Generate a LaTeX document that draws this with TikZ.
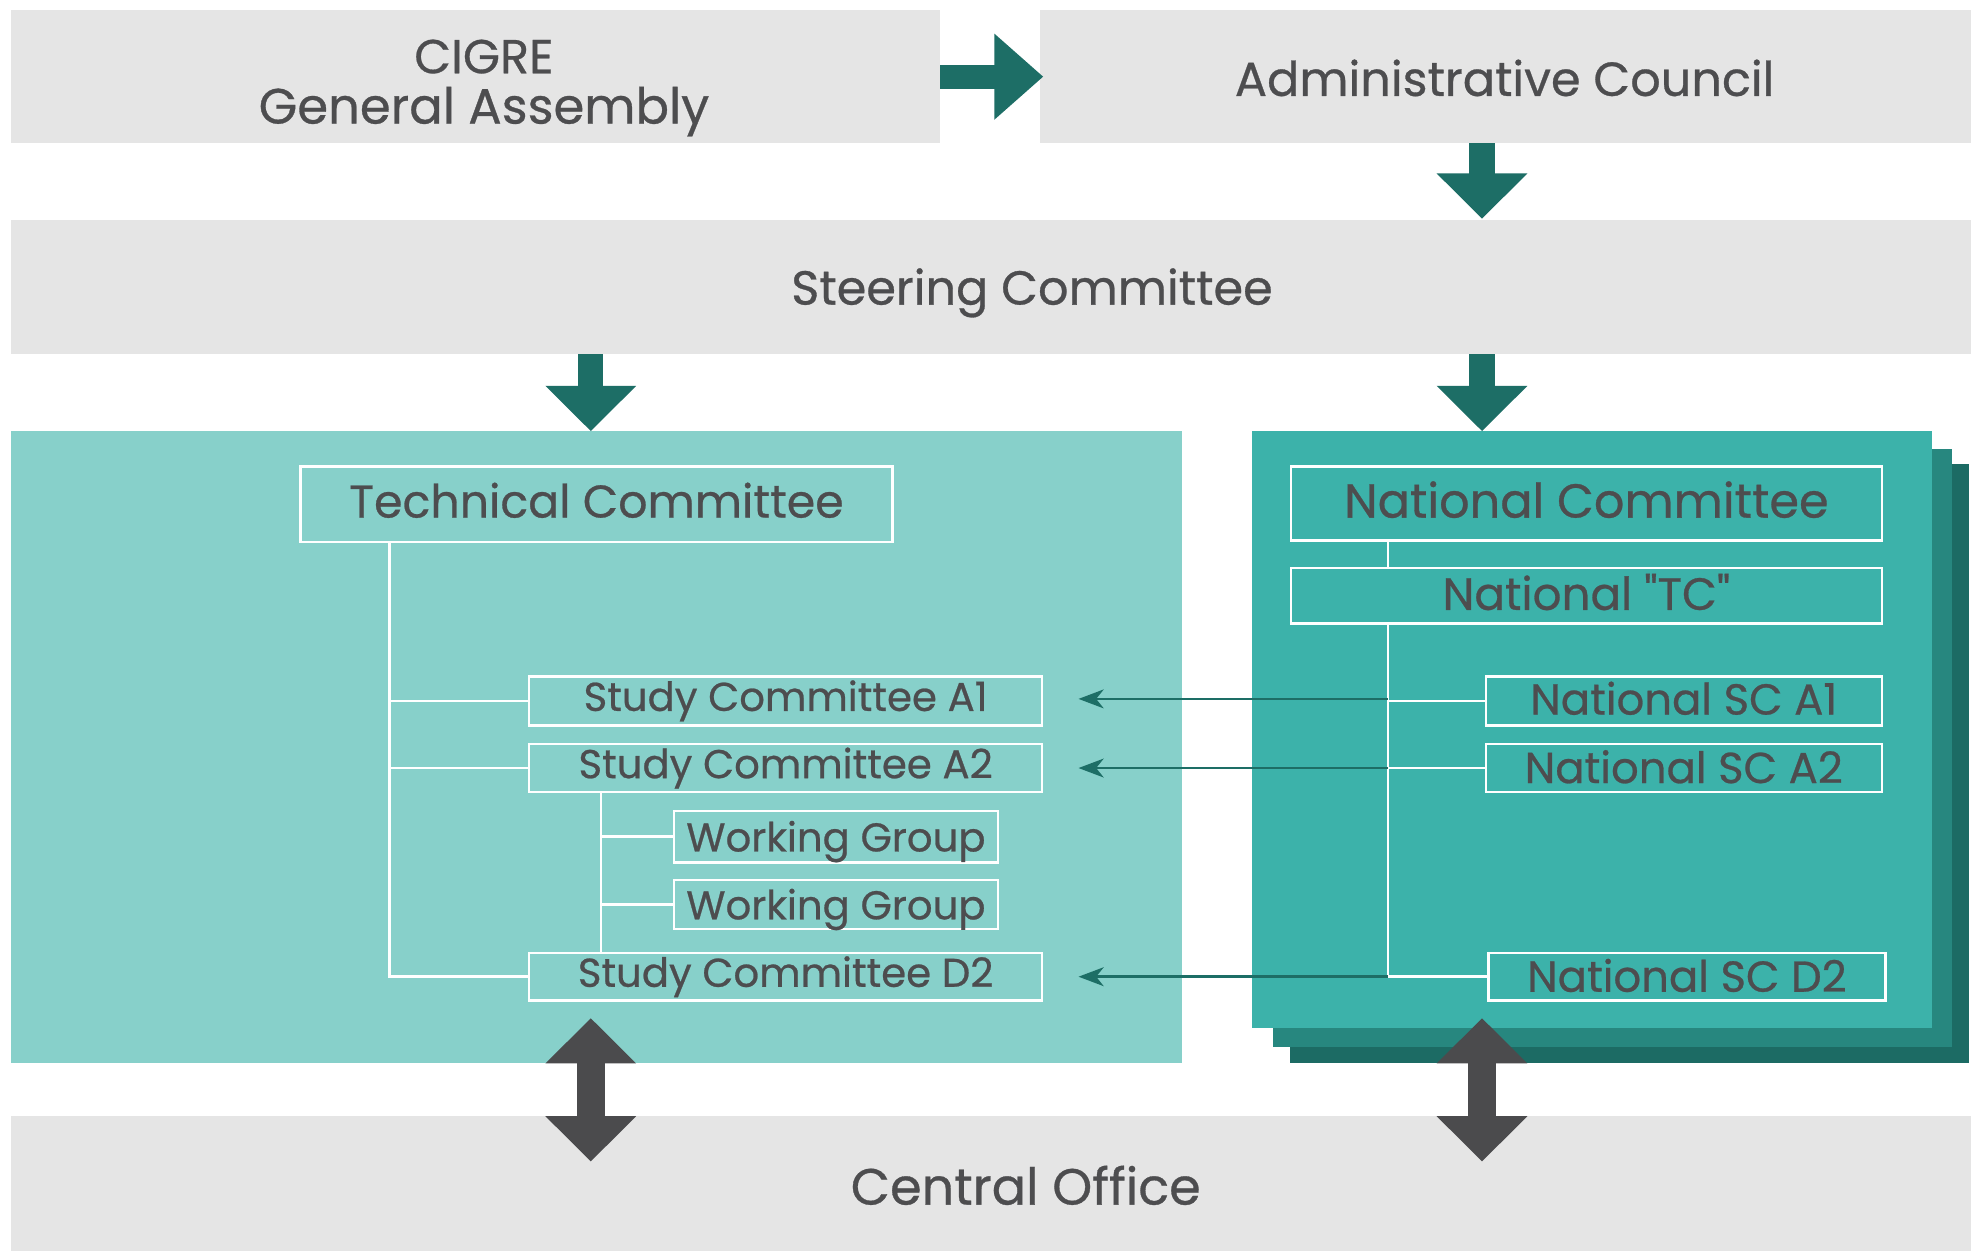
\documentclass[tikz,border=0pt]{standalone}
\usepackage{fontspec}
\setmainfont{Poppins}[Ligatures=TeXOff, FakeBold=0.6]
\usetikzlibrary{arrows.meta}
\definecolor{boxgray}{HTML}{E5E5E5}
\definecolor{darkteal}{HTML}{1D6E66}
\definecolor{lightteal}{HTML}{87D0CA}
\definecolor{midteal}{HTML}{3CB2AA}
\definecolor{layertwo}{HTML}{27877F}
\definecolor{layerthree}{HTML}{1C6B64}
\definecolor{txt}{HTML}{4D4D4F}
\definecolor{arrgray}{HTML}{4B4B4D}
\newcommand{\liftby}[2]{\raisebox{#1}[\height][\depth]{#2}}
\tikzset{
  area/.style={rectangle, inner sep=0pt, outer sep=0pt, draw=none},
  bigtext/.style={text=txt, font=\fontsize{38}{40}\selectfont, align=center, inner sep=0pt},
  whitebox/.style={rectangle, draw=white, line width=2pt, inner sep=0pt, outer sep=0pt, text=txt},
  boxlarge/.style={whitebox, font=\fontsize{38}{40}\selectfont},
  boxsmall/.style={whitebox, font=\fontsize{32}{34}\selectfont},
  fatarrow/.style={darkteal, line width=20pt, -{Triangle[width=70pt,length=36pt]}},
  duoarrow/.style={arrgray, line width=22pt, {Triangle[width=70pt,length=36pt]}-{Triangle[width=70pt,length=36pt]}, shorten <=-36pt, shorten >=-36pt},
  treeline/.style={white, line width=2pt},
  linkarrow/.style={darkteal, line width=2pt, -{Stealth[length=20pt,width=15pt,inset=6pt]}, shorten >=29pt}
}
\begin{document}
\begin{tikzpicture}[x=1pt,y=-1pt]
\useasboundingbox (0,0) rectangle (1568,995);
\fill[white] (0,0) rectangle (1568,995);

% grey bands
\node[area, fill=boxgray, minimum width=739pt, minimum height=106pt] (GA) at (378.5,61) {};
\node[area, fill=boxgray, minimum width=741pt, minimum height=106pt] (AC) at (1197.5,61) {};
\node[area, fill=boxgray, minimum width=1559pt, minimum height=107pt] (ST) at (788.5,228.5) {};
\node[area, fill=boxgray, minimum width=1559pt, minimum height=107pt] (CO) at (788.5,941.5) {};

\node[bigtext] (GAt) at (385,70) {CIGRE\\\fontsize{39.5}{40}\selectfont General Assembly};
\node[bigtext] (ACt) at (1197,62) {Administrative Council};
\node[bigtext] (STt) at (821,233) {Steering Committee};
\node[bigtext, font=\fontsize{40.5}{42}\selectfont] (COt) at (816,943) {Central Office};

% column coordinates
\coordinate (colL) at (470,0);
\coordinate (colR) at (1179,0);
\coordinate (tl) at (310,0);
\coordinate (wl) at (478,0);
\coordinate (nl) at (1104,0);

% technical area
\node[area, fill=lightteal, minimum width=931pt, minimum height=503pt] (TA) at (474.5,594.5) {};

% national area with layers
\node[area, fill=layerthree, minimum width=540pt, minimum height=477pt] (NL3) at (1296.5,607.5) {};
\node[area, fill=layertwo, minimum width=540pt, minimum height=476pt] (NL2) at (1283,595) {};
\node[area, fill=midteal, minimum width=541pt, minimum height=475pt] (NA) at (1266.5,580.5) {};

% thick arrows
\draw[fatarrow, line width=19pt, -{Triangle[width=66pt,length=39pt]}] (GA.east) -- ([xshift=3pt]AC.west);
\draw[fatarrow] (AC.south -| colR) -- ([yshift=1pt]ST.north -| colR);
\draw[fatarrow] (ST.south -| colL) -- (TA.north -| colL);
\draw[fatarrow] (ST.south -| colR) -- (NA.north -| colR);

% technical committee tree
\node[boxlarge, font=\fontsize{36.5}{38}\selectfont, minimum width=471pt, minimum height=60pt] (TC) at (474.5,401) {\liftby{3pt}{Technical Committee}};
\node[boxsmall, minimum width=408pt, minimum height=39pt] (SCA1) at (625,557.5) {Study Committee A1};
\node[boxsmall, minimum width=408pt, minimum height=38pt] (SCA2) at (625,611) {Study Committee A2};
\node[boxsmall, minimum width=258pt, minimum height=41pt] (WG1) at (665,665.5) {\liftby{-4pt}{Working Group}};
\node[boxsmall, minimum width=258pt, minimum height=39pt] (WG2) at (665,719.5) {\liftby{-4pt}{Working Group}};
\node[boxsmall, minimum width=408pt, minimum height=38pt] (SCD2) at (625,777) {Study Committee D2};

\draw[treeline] (TC.south -| tl) |- (SCD2.west);
\draw[treeline] (SCA1.west -| tl) -- (SCA1.west);
\draw[treeline] (SCA2.west -| tl) -- (SCA2.west);
\draw[treeline] (SCA2.south -| wl) -- (SCD2.north -| wl);
\draw[treeline] (WG1.west -| wl) -- (WG1.west);
\draw[treeline] (WG2.west -| wl) -- (WG2.west);

% national committee tree
\node[boxlarge, minimum width=470pt, minimum height=59pt] (NC) at (1262,400.5) {\liftby{3pt}{National Committee}};
\node[boxlarge, font=\fontsize{36}{38}\selectfont, minimum width=470pt, minimum height=44pt] (NTC) at (1262,474) {\liftby{3pt}{National "TC"}};
\node[boxsmall, font=\fontsize{34.5}{36}\selectfont, minimum width=315pt, minimum height=39pt] (NSCA1) at (1339.5,557.5) {\liftby{2pt}{National SC A1}};
\node[boxsmall, font=\fontsize{34.5}{36}\selectfont, minimum width=315pt, minimum height=38pt] (NSCA2) at (1339.5,611) {\liftby{1pt}{National SC A2}};
\node[boxsmall, font=\fontsize{34.5}{36}\selectfont, minimum width=316pt, minimum height=38pt] (NSCD2) at (1342,777) {\liftby{1pt}{National SC D2}};

\draw[treeline] (NC.south -| nl) -- (NTC.north -| nl);
\draw[treeline] (NTC.south -| nl) |- (NSCD2.west);
\draw[treeline] (NSCA1.west -| nl) -- (NSCA1.west);
\draw[treeline] (NSCA2.west -| nl) -- (NSCA2.west);

% links national -> study committees
\draw[linkarrow] ([yshift=1.5pt]NSCA1.west -| nl) -- ([yshift=1.5pt]SCA1.east);
\draw[linkarrow] (NSCA2.west -| nl) -- (SCA2.east);
\draw[linkarrow] (NSCD2.west -| nl) -- (SCD2.east);

% double arrows to central office
\draw[duoarrow] (TA.south -| colL) -- (CO.north -| colL);
\draw[duoarrow] (NL3.south -| colR) -- (CO.north -| colR);
\end{tikzpicture}
\end{document}
